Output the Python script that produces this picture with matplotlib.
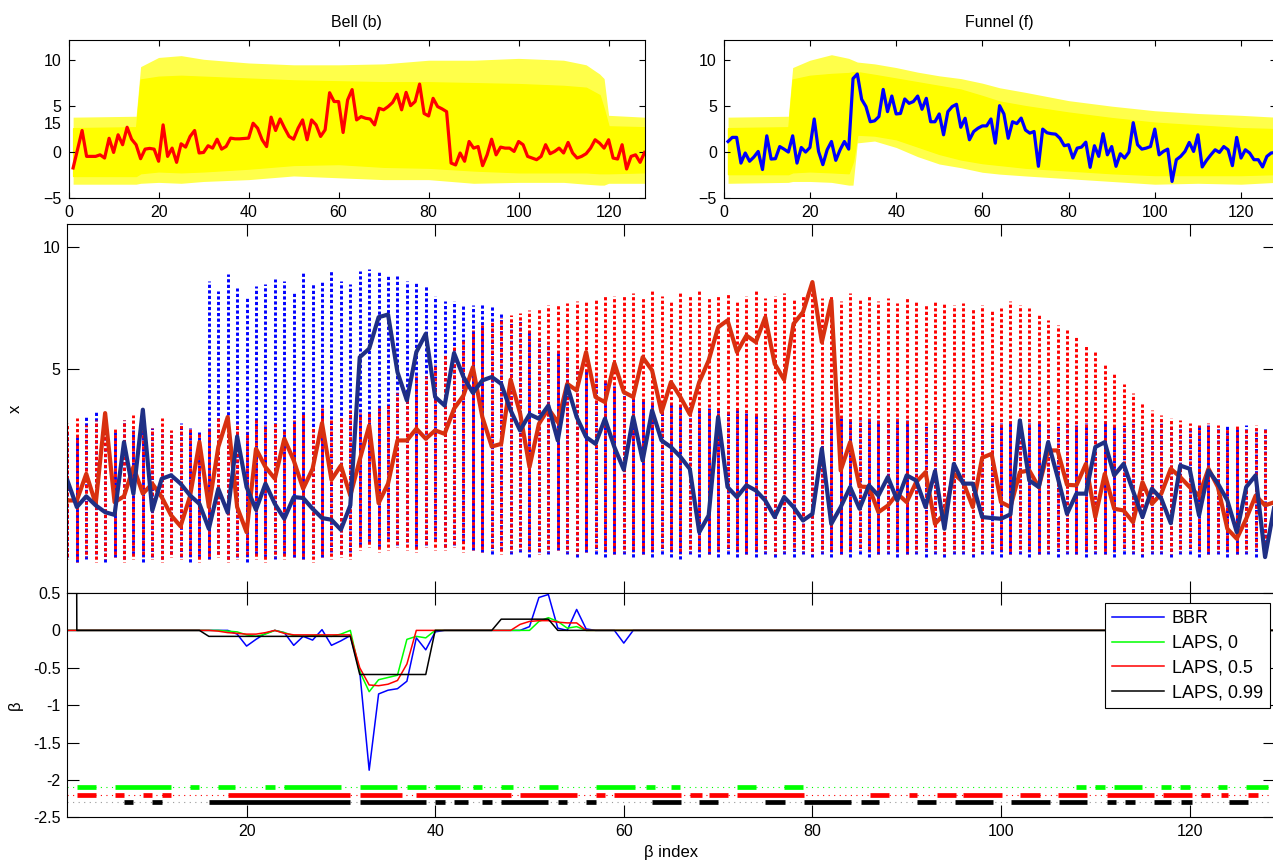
import numpy as np
import matplotlib
matplotlib.use("Agg")
import matplotlib.pyplot as plt

plt.rcParams['font.family'] = ['Liberation Sans', 'DejaVu Sans']
plt.rcParams['font.size'] = 11.5

# ---------------- top panels: simulated series and one estimate ----------------
bell_est = [
    -1.73, 0.3, 2.35, -0.47, -0.47, -0.47, -0.3, -0.65, 1.5, -0.04,
    1.88, 0.8, 2.7, 1.4, 0.8, -0.72, 0.32, 0.4, 0.32, -1.0,
    2.96, -0.47, 0.43, -1.12, 0.9, 0.54, 1.7, 2.35, -0.1, -0.04,
    0.69, 0.43, 1.4, 0.32, 0.61, 1.52, 1.44, 1.44, 1.48, 1.52,
    3.14, 2.6, 1.34, 0.6, 3.8, 2.35, 3.6, 2.6, 1.7, 1.4,
    2.6, 3.5, 1.34, 3.5, 2.96, 1.7, 2.42, 6.46, 5.5, 5.5,
    2.13, 5.67, 6.8, 3.5, 3.86, 3.68, 3.6, 2.96, 4.77, 4.6,
    4.95, 5.4, 6.3, 4.6, 6.5, 5.05, 5.5, 7.4, 4.2, 3.93,
    5.85, 4.95, 4.7, 4.4, -1.2, -1.4, -0.1, -1.0, 1.15, 0.43,
    0.6, -1.48, -0.3, 1.4, -0.3, 0.54, 0.43, 0.43, 0.07, 1.15,
    0.8, -0.47, -0.65, -0.83, -0.47, 0.8, -0.18, 0.07, 0.43, -0.1,
    1.05, -0.1, -0.65, -0.47, -0.18, 0.43, 1.34, 0.97, 0.43, 1.34,
    -0.65, -0.76, 0.8, -1.84, -0.47, -0.3, -1.12, -0.04]

funnel_est = [
    1.15, 1.6, 1.6, -1.2, -0.1, -1.0, -0.54, 0.07, -1.9, 1.77,
    -0.76, -0.72, 0.6, 0.32, 0.0, 1.77, -1.2, 0.5, 0.0, 0.5,
    3.6, 0.07, -1.37, 0.25, 1.15, -0.9, 0.25, 1.15, 0.32, 8.0,
    8.5, 5.74, 4.95, 3.3, 3.4, 3.86, 6.82, 4.4, 6.1, 4.15,
    4.2, 5.78, 5.3, 5.5, 6.1, 4.66, 5.85, 3.3, 3.3, 4.15,
    1.88, 4.4, 4.95, 5.2, 2.7, 3.68, 1.34, 2.24, 2.6, 2.85,
    2.85, 3.6, 0.97, 5.05, 4.15, 1.5, 3.3, 3.1, 3.7, 2.4,
    2.06, 2.24, -1.55, 2.5, 2.1, 2.0, 1.95, 1.5, 0.69, 0.8,
    -0.65, 0.43, 0.54, 1.08, -1.66, 0.69, -0.47, 2.0, -0.3, 0.6,
    -1.55, -0.18, -0.65, 0.0, 3.2, 0.8, 0.32, 0.43, 0.6, 2.5,
    -0.3, 0.07, 0.32, -3.2, -0.83, -0.47, 0.07, 1.05, 0.07, 1.88,
    -1.62, -0.9, -0.3, 0.25, -0.04, 0.6, 0.25, -1.48, 1.6, -0.65,
    0.25, -0.1, -0.83, -0.83, -1.62, -0.47, -0.1, -0.04]

# spread of the simulated traces: dense core and the sparse outer fringe
bell_band_x = [1, 15, 16, 20, 25, 30, 40, 50, 60, 70, 80, 90, 100, 110, 115, 118, 119, 120, 128]
bell_core_hi = [2.6, 2.7, 7.9, 8.2, 8.3, 8.2, 8.0, 7.8, 7.7, 7.6, 7.6, 7.5, 7.4, 7.2, 7.0, 6.2, 4.6, 2.8, 2.7]
bell_core_lo = [-2.6, -2.6, -2.3, -2.1, -2.2, -2.1, -1.8, -1.4, -1.3, -1.6, -1.7, -2.0, -2.2, -2.2, -2.2, -2.3, -2.3, -2.3, -2.2]
bell_outer_hi = [3.8, 3.9, 9.3, 10.3, 10.5, 10.1, 9.7, 9.5, 9.5, 9.6, 10.0, 10.0, 10.2, 10.0, 9.5, 8.5, 8.0, 4.0, 3.8]
bell_outer_lo = [-3.5, -3.5, -3.4, -3.3, -3.4, -3.2, -3.0, -2.6, -2.8, -3.0, -3.0, -3.4, -3.3, -3.3, -3.5, -3.6, -3.6, -3.4, -3.4]

funnel_band_x = [1, 15, 16, 20, 25, 29, 30, 31, 35, 40, 45, 50, 55, 60, 64, 70, 80, 90, 100, 110, 120, 128]
funnel_core_hi = [2.6, 2.7, 7.9, 8.3, 8.5, 8.6, 8.7, 8.7, 8.4, 8.0, 7.6, 7.2, 6.8, 6.1, 5.5, 5.0, 4.3, 3.7, 3.2, 2.9, 2.6, 2.5]
funnel_core_lo = [-2.4, -2.4, -2.2, -2.1, -2.2, -2.3, -1.0, 1.9, 1.8, 1.4, 0.6, -0.2, -0.8, -1.2, -1.4, -1.7, -2.0, -2.3, -2.5, -2.5, -2.5, -2.4]
funnel_outer_hi = [3.8, 3.9, 9.2, 10.0, 10.6, 10.2, 10.0, 9.8, 9.6, 9.2, 8.7, 8.3, 8.0, 7.5, 7.0, 6.5, 5.6, 5.0, 4.5, 4.2, 4.0, 3.8]
funnel_outer_lo = [-3.4, -3.3, -3.2, -3.2, -3.3, -3.6, -3.6, 1.0, 1.2, 0.5, -0.5, -1.3, -1.7, -2.2, -2.4, -2.6, -2.9, -3.2, -3.5, -3.4, -3.5, -3.3]

# ---------------- middle panel: posterior samples and estimates ----------------
mid_blue_est = [
    0.43, -0.66, -0.22, -0.59, -0.87, -0.98, 2.0, -0.11, 3.33, -0.8,
    0.5, 0.64, 0.3, -0.18, -0.53, -1.55, 0.09, -0.89, 2.23, 0.16,
    -0.77, 0.3, -0.53, -1.14, -0.25, -0.29, -0.73, -1.11, -1.18, -1.59,
    -0.59, 5.48, 5.83, 7.12, 7.23, 4.87, 3.71, 5.69, 6.44, 3.85,
    3.5, 5.65, 4.67, 4.02, 4.53, 4.67, 4.39, 3.3, 2.48, 3.14,
    2.96, 3.5, 2.07, 4.32, 3.03, 2.21, 1.93, 2.96, 1.8, 0.87,
    3.03, 1.25, 3.3, 2.07, 1.8, 1.4, 0.9, -1.69, -1.0, 3.03,
    0.16, -0.25, 0.23, 0.02, -0.39, -1.07, -0.25, -0.66, -1.21, -0.94,
    1.73, -1.35, -0.66, 0.16, -0.73, 0.23, -0.19, 0.57, -0.39, 0.64,
    0.43, -0.66, 0.81, -1.55, 1.11, 0.3, 0.3, -1.07, -1.11, -1.14,
    -0.96, 2.89, 0.43, 0.16, 2.0, 0.57, -0.94, -0.11, -0.11, 1.8,
    2.0, 0.64, 1.11, 0.0, -1.07, 0.09, -0.32, -1.32, 1.04, 0.91,
    -1.0, 0.84, 0.3, -0.39, -1.69, 0.16, 0.64, -2.71, -0.6]

mid_red_est = [
    -0.39, -0.39, 0.7, -0.53, 3.19, -0.46, -0.22, 0.98, -0.11, 0.3,
    -0.25, -1.0, -1.45, -0.22, 2.0, -0.66, 1.8, 3.03, -0.66, -1.69,
    1.73, 0.98, 0.5, 2.14, 1.25, 0.09, 0.91, 2.78, 0.46, 1.04,
    -0.19, 1.28, 2.68, -0.5, 0.3, 2.07, 2.07, 2.55, 2.14, 2.48,
    2.34, 3.37, 3.91, 5.07, 3.03, 1.82, 1.93, 4.56, 3.19, 0.98,
    2.75, 3.37, 2.82, 4.39, 4.12, 5.69, 3.85, 3.64, 5.24, 4.05,
    3.85, 5.48, 4.94, 3.23, 4.46, 3.85, 3.14, 4.46, 5.35, 6.71,
    6.99, 5.69, 6.37, 6.1, 7.12, 5.21, 4.56, 6.85, 7.33, 8.56,
    6.1, 7.81, 0.84, 2.0, 0.18, 0.16, -0.87, -0.6, -0.11, -0.46,
    0.36, 0.77, -1.35, -0.94, 0.7, 0.36, -0.66, 1.36, 1.52, -0.46,
    -0.66, 0.77, 0.84, 0.16, 1.66, 1.66, 0.25, 0.23, 1.11, -1.07,
    0.7, -0.73, -0.8, -1.28, 0.36, -0.53, -0.11, 0.91, 0.57, 0.16,
    -0.19, 0.91, 0.16, -1.55, -1.96, -1.14, -0.19, -0.59, -0.46]

# vertical extent of the sample clouds at each index
blue_hi = [
    2.4, 2.3, 3.1, 3.3, 2.6, 2.4, 2.9, 2.5, 3.2, 2.6, 2.5, 2.4, 2.8, 2.6, 2.4,
    8.6, 8.2, 8.9, 8.3, 8.0, 8.4, 8.5, 8.7, 8.6, 8.2, 9.0, 8.5, 8.6, 9.0, 8.6, 8.5,
    9.0, 9.1, 9.0, 8.9, 8.8, 8.6, 8.6, 8.4, 8.0, 7.8, 7.8, 7.6, 7.6,
    7.7, 7.6, 7.3, 7.0, 7.0, 6.6, 6.3, 6.0, 5.7, 5.5, 5.2, 5.0, 4.7, 4.5, 4.3, 4.0,
    3.8, 3.7, 3.7, 3.6, 3.6, 3.5, 3.5, 3.4, 3.4, 3.3, 3.3, 3.3, 3.2, 3.2, 3.2, 3.1, 3.1, 3.1, 3.0, 3.0,
    3.0, 3.0, 3.0, 2.9, 2.9, 3.0, 2.9, 2.9, 3.0, 2.9, 2.9, 2.8, 2.9, 2.8, 2.9, 2.8, 2.8, 2.9, 2.8, 2.8,
    2.8, 2.9, 2.8, 2.8, 2.7, 2.8, 2.8, 2.7, 2.8, 2.7, 2.8, 2.7, 2.7, 2.8, 2.7, 2.7, 2.8, 2.7, 2.7, 2.6,
    2.7, 2.7, 2.6, 2.7, 2.6, 2.7, 2.6, 2.6, 2.6]
blue_lo = [
    -2.7, -2.9, -2.8, -2.6, -2.9, -2.7, -2.8, -2.6, -2.9, -2.7, -2.8, -2.6, -2.7, -2.9, -2.7,
    -2.8, -2.6, -2.8, -2.7, -2.9, -2.6, -2.7, -2.8, -2.6, -2.7, -2.8, -2.6, -2.7, -2.5, -2.6, -2.5,
    -2.2, -2.1, -2.3, -2.0, -2.2, -2.1, -2.3, -2.2, -2.0, -2.3, -2.2, -2.1, -2.4,
    -2.5, -2.6, -2.4, -2.6, -2.5, -2.7, -2.5, -2.6, -2.4, -2.6, -2.7, -2.5, -2.6, -2.7, -2.6, -2.6,
    -2.7, -2.6, -2.7, -2.6, -2.7, -2.8, -2.6, -2.7, -2.6, -2.7, -2.6, -2.7, -2.6, -2.7, -2.6, -2.7, -2.6, -2.7, -2.6, -2.7,
    -2.6, -2.7, -2.6, -2.7, -2.6, -2.7, -2.6, -2.6, -2.7, -2.6, -2.6, -2.7, -2.6, -2.7, -2.6, -2.6, -2.7, -2.6, -2.6, -2.7,
    -2.6, -2.6, -2.7, -2.6, -2.6, -2.7, -2.6, -2.6, -2.7, -2.6, -2.6, -2.7, -2.6, -2.6, -2.7, -2.6, -2.6, -2.7, -2.6, -2.6,
    -2.7, -2.6, -2.6, -2.7, -2.6, -2.6, -2.7, -2.6, -2.6]
red_hi = [
    2.8, 3.0, 2.7, 2.9, 3.2, 2.6, 2.9, 3.1, 2.5, 2.6, 3.0, 2.5, 2.7, 2.6, 2.4,
    2.6, 3.0, 3.1, 2.8, 2.4, 3.0, 2.7, 2.8, 2.5, 2.9, 3.2, 2.6, 3.4, 2.9, 3.0, 3.3,
    3.2, 3.2, 3.4, 3.6, 4.0, 3.9, 4.7, 4.7, 5.2, 5.6, 5.9, 6.2, 6.6,
    6.8, 7.0, 7.1, 7.2, 7.3, 7.4, 7.5, 7.6, 7.6, 7.7, 7.8, 7.8, 7.9, 8.0, 8.0, 8.0,
    8.1, 7.9, 8.2, 8.0, 7.8, 8.1, 8.0, 8.2, 7.9, 8.0, 8.1, 7.8, 8.0, 8.2, 7.9, 8.0, 8.1, 7.9, 8.0, 8.2,
    7.9, 8.0, 7.8, 8.1, 7.9, 8.0, 7.8, 7.9, 7.7, 7.9, 7.8, 7.6, 7.8, 7.7, 7.6, 7.7, 7.5, 7.6, 7.4, 7.5,
    7.8, 7.6, 7.5, 7.3, 7.0, 6.8, 6.6, 6.3, 6.0, 5.7, 5.2, 4.8, 4.4, 4.0, 3.6, 3.3, 3.1, 3.0, 2.9, 2.8,
    2.7, 2.8, 2.7, 2.6, 2.7, 2.6, 2.7, 2.6, 2.6]
red_lo = [
    -2.8, -2.9, -2.7, -2.9, -2.8, -2.7, -2.9, -2.8, -2.7, -2.8, -2.9, -2.7, -2.8, -2.7, -2.9,
    -2.8, -2.7, -2.9, -2.8, -2.7, -2.8, -2.9, -2.7, -2.8, -2.7, -2.8, -2.9, -2.7, -2.8, -2.7, -2.8,
    -2.4, -2.3, -2.5, -2.4, -2.3, -2.4, -2.5, -2.3, -2.4, -2.4, -2.3, -2.5, -2.4,
    -2.5, -2.4, -2.6, -2.5, -2.4, -2.5, -2.6, -2.5, -2.4, -2.5, -2.6, -2.5, -2.4, -2.5, -2.6, -2.5,
    -2.5, -2.6, -2.5, -2.4, -2.5, -2.6, -2.5, -2.5, -2.6, -2.5, -2.4, -2.5, -2.6, -2.5, -2.5, -2.6, -2.5, -2.4, -2.5, -2.6,
    -2.5, -2.5, -2.6, -2.5, -2.4, -2.5, -2.6, -2.5, -2.5, -2.6, -2.5, -2.4, -2.5, -2.6, -2.5, -2.5, -2.6, -2.5, -2.4, -2.5,
    -2.6, -2.5, -2.5, -2.6, -2.5, -2.4, -2.5, -2.6, -2.5, -2.5, -2.6, -2.5, -2.4, -2.5, -2.6, -2.5, -2.5, -2.6, -2.5, -2.4,
    -2.5, -2.6, -2.5, -2.5, -2.6, -2.5, -2.4, -2.5, -2.6]

# ---------------- bottom panel: coefficient paths ----------------
beta_idx = list(range(16, 62))
bbr_path = [0, 0, 0, -0.05, -0.21, -0.12, -0.04, 0.0, -0.03, -0.2,
            -0.08, -0.13, 0.01, -0.2, -0.14, -0.07, -0.55, -1.87, -0.85, -0.8,
            -0.78, -0.68, -0.1, -0.26, -0.02, 0, 0, 0, 0, 0,
            0, 0, 0, 0, 0.05, 0.44, 0.48, 0.03, 0.0, 0.28,
            0.02, 0, 0, 0, -0.17, 0]
laps0_path = [0, 0, -0.01, -0.02, -0.06, -0.08, -0.05, 0.0, -0.03, -0.07,
              -0.08, -0.07, -0.07, -0.08, -0.05, 0.0, -0.55, -0.82, -0.66, -0.63,
              -0.6, -0.12, -0.08, -0.1, 0.0, 0, 0, 0, 0, 0,
              0, 0, 0, 0, 0.0, 0.12, 0.17, 0.12, 0.03, 0.05,
              0.0, 0, 0, 0, 0, 0]
laps05_path = [0, -0.01, -0.03, -0.04, -0.05, -0.05, -0.03, 0.0, -0.04, -0.06,
               -0.06, -0.06, -0.06, -0.06, -0.06, -0.06, -0.5, -0.73, -0.74, -0.72,
               -0.67, -0.45, 0.0, 0, 0, 0, 0, 0, 0, 0,
               0, 0, 0, 0.08, 0.12, 0.13, 0.13, 0.11, 0.1, 0.1,
               0.0, 0, 0, 0, 0, 0]
laps099_path = [-0.08] * 16 + [-0.59] * 8 + [0] * 7 + [0.15] * 6 + [0] * 9
laps099_first = 40.0   # first coefficient, far above the visible range

# selected-variable runs (start, end) drawn as indicator bars
sel_laps0 = [(2, 4), (6, 12), (14, 15), (17, 18.8), (22, 23), (24, 30), (32, 36), (37, 39),
             (40, 42.6), (44, 45), (47, 48.2), (51, 53), (57, 61.2), (62.4, 63.3), (65, 66),
             (72, 74), (77, 79), (108, 109), (110, 111), (112, 115), (117, 118), (119, 120),
             (123, 124), (126, 128.3)]
sel_laps05 = [(2, 4), (6, 7), (9, 10), (11, 12), (18, 31), (32, 36.5), (38, 48), (49, 55),
              (57, 58), (59, 66.1), (67, 68.3), (69, 71), (72, 79.1), (86.1, 88.1), (90.2, 91.1),
              (93.2, 95.2), (96, 100.1), (102, 104.1), (106, 109.1), (111.2, 116.2),
              (117.2, 120.2), (121.2, 122.2), (123.3, 124.1), (126.2, 127.2)]
sel_laps099 = [(7, 8), (10, 11), (16, 31), (32, 39), (40, 41), (42, 43.5), (45, 46), (47, 52),
               (53, 54), (56, 57), (63, 66.1), (68, 70), (75, 77.1), (79.1, 84.1), (85.1, 87.1),
               (91.1, 93.1), (95.1, 99.1), (101.1, 105.2), (106.1, 109.1), (111.2, 112.2),
               (113.2, 114.2), (116.2, 118), (119.1, 120.2), (124.2, 126.2)]
sel_rows = [(-2.1, sel_laps0, '#00ff00', '#00ff00'),
            (-2.2, sel_laps05, '#ff0000', '#ff0000'),
            (-2.3, sel_laps099, '#000000', '#9a9a9a')]

# ---------------- figure ----------------
W, H = 1273, 867
fig = plt.figure(figsize=(W / 100, H / 100), dpi=100)


def axes_px(x0, y0, x1, y1):
    return fig.add_axes([x0 / W, 1 - y1 / H, (x1 - x0) / W, (y1 - y0) / H])


def style(ax, ticklen):
    ax.tick_params(direction='in', length=ticklen, width=0.8, top=True, right=True,
                   labelsize=11.5, pad=5)
    for s in ax.spines.values():
        s.set_linewidth(0.8)


ax_mid = axes_px(67.4, 224, 1274.5, 592.7)
ax_beta = axes_px(67.4, 593, 1274.5, 817.3)
ax_bell = axes_px(68.6, 40, 644.6, 198)
ax_fun = axes_px(723.7, 40, 1275.5, 198)

# top panels
t = np.arange(1, 129)
for ax, bx, ohi, olo, chi, clo, est, col, title in [
        (ax_bell, bell_band_x, bell_outer_hi, bell_outer_lo, bell_core_hi, bell_core_lo,
         bell_est, '#ff0000', 'Bell (b)'),
        (ax_fun, funnel_band_x, funnel_outer_hi, funnel_outer_lo, funnel_core_hi, funnel_core_lo,
         funnel_est, '#0000ff', 'Funnel (f)')]:
    ax.fill_between(bx, olo, ohi, color='#ffff4a', lw=0)
    ax.fill_between(bx, clo, chi, color='#ffff00', lw=1.0, edgecolor='#ffff00')
    ax.plot(t, est, color=col, lw=2.3, solid_joinstyle='round')
    ax.set_xlim(0, 128)
    ax.set_ylim(-5, 12.2)
    ax.set_xticks([0, 20, 40, 60, 80, 100, 120])
    ax.set_yticks([-5, 0, 5, 10])
    ax.set_title(title, fontsize=11.5, pad=9)
    style(ax, 4.5)

# middle panel
xm = np.arange(1, 130)
ax_mid.vlines(xm, blue_lo, blue_hi, colors='#0000ff', linewidth=2.1,
              linestyles=[(0, (1.1, 0.8))])
ax_mid.vlines(xm, red_lo, red_hi, colors='#ff0000', linewidth=2.1,
              linestyles=[(0.95, (1.1, 0.8))])
ax_mid.plot(xm, mid_red_est, color='#d8300f', lw=3.0, solid_joinstyle='round')
ax_mid.plot(xm, mid_blue_est, color='#1f2f85', lw=3.0, solid_joinstyle='round')
ax_mid.set_xlim(1, 129)
ax_mid.set_ylim(-4.17, 10.94)
ax_mid.set_xticks([20, 40, 60, 80, 100, 120])
ax_mid.set_xticklabels([])
ax_mid.set_yticks([5, 10])
ax_mid.set_ylabel('x', fontsize=12)
ax_mid.yaxis.set_label_coords(-0.037, 0.5)
ax_mid.text(-0.0045, 15, '15', transform=ax_mid.get_yaxis_transform(),
            ha='right', va='center', fontsize=11.5, clip_on=False)
style(ax_mid, 8.5)

# bottom panel
xb = np.arange(1, 130)


def full_path(vals, first=0.0):
    y = np.zeros(len(xb))
    y[0] = first
    for i, v in zip(beta_idx, vals):
        y[i - 1] = v
    return y


ax_beta.plot(xb, full_path(bbr_path), color='#0000ff', lw=1.1, label='BBR')
ax_beta.plot(xb, full_path(laps0_path), color='#00ff00', lw=1.1, label='LAPS, 0')
ax_beta.plot(xb, full_path(laps05_path), color='#ff0000', lw=1.1, label='LAPS, 0.5')
ax_beta.plot(xb, full_path(laps099_path, laps099_first), color='#000000', lw=1.1,
             label='LAPS, 0.99')

for yrow, runs, col, dotcol in sel_rows:
    ax_beta.plot([1, 129], [yrow, yrow], color=dotcol, lw=0.8, linestyle=(0, (1, 4)))
    for a, b in runs:
        ax_beta.plot([a, b], [yrow, yrow], color=col, lw=3.4, solid_capstyle='butt')

ax_beta.set_xlim(1, 129)
ax_beta.set_ylim(-2.5, 0.5)
ax_beta.set_xticks([20, 40, 60, 80, 100, 120])
ax_beta.set_yticks([-2.5, -2, -1.5, -1, -0.5, 0, 0.5])
ax_beta.set_yticklabels(['-2.5', '-2', '-1.5', '-1', '-0.5', '0', '0.5'])
ax_beta.set_ylabel('β', fontsize=12)
ax_beta.yaxis.set_label_coords(-0.037, 0.5)
ax_beta.set_xlabel('β index', fontsize=12, labelpad=4)
style(ax_beta, 8.5)
leg = ax_beta.legend(loc='upper right', bbox_to_anchor=(0.9963, 0.955), borderaxespad=0,
                     fancybox=False, edgecolor='black', framealpha=1, fontsize=13,
                     handlelength=2.9, handletextpad=0.4, labelspacing=0.42, borderpad=0.4)
leg.get_frame().set_linewidth(0.8)

fig.savefig('out.png', dpi=100)
